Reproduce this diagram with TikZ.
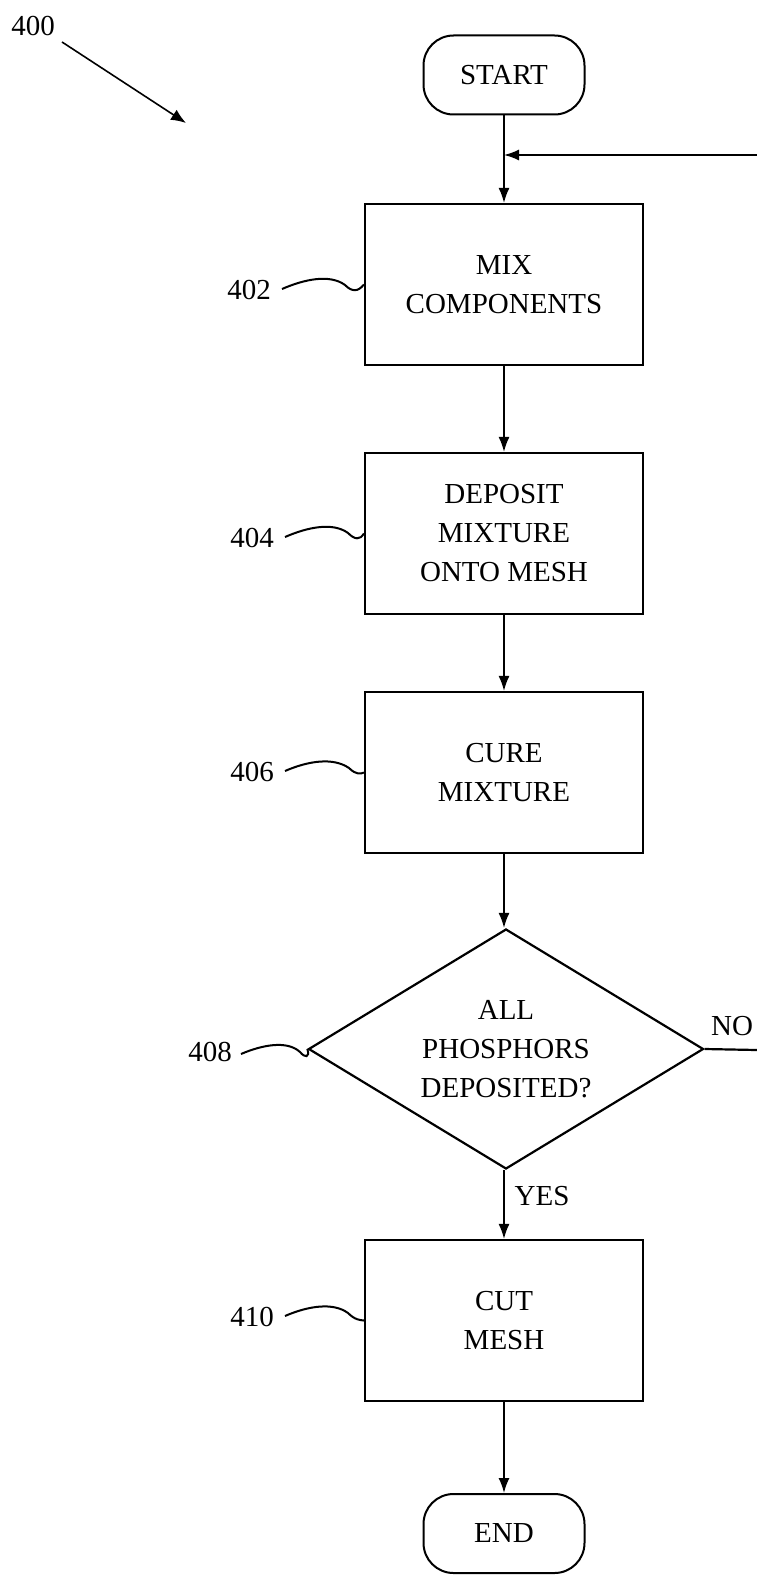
\documentclass[tikz,border=0pt]{standalone}
\usepackage{fontspec}
\setmainfont{Liberation Serif}
\usetikzlibrary{shapes.geometric,arrows.meta}
\begin{document}
\begin{tikzpicture}[x=1pt,y=-1pt,
  txt/.style={font=\fontsize{29}{39}\selectfont, align=center},
  stepbox/.style={txt, draw, line width=2.2pt, minimum width=278pt, minimum height=161pt, inner sep=0pt},
  term/.style={txt, draw, line width=2pt, rounded corners=30pt, minimum width=161pt, minimum height=79pt, inner sep=0pt},
  decide/.style={txt, draw, diamond, line width=2.2pt, aspect=1.65, minimum width=395pt, minimum height=240pt, inner sep=0pt},
  flow/.style={line width=1.6pt, -{Latex[length=15pt,width=11pt]}},
  lead/.style={line width=2pt},
  lbl/.style={font=\fontsize{29}{32}\selectfont}
]
\useasboundingbox (0,0) rectangle (757,1576);

\node[term] (start) at (504,75) {START};
\node[stepbox] (s402) at (504,284.5) {MIX\\COMPONENTS};
\node[stepbox] (s404) at (504,533.5) {DEPOSIT\\MIXTURE\\ONTO MESH};
\node[stepbox] (s406) at (504,772.5) {CURE\\MIXTURE};
\node[decide] (d408) at (506,1049) {ALL\\PHOSPHORS\\DEPOSITED?};
\node[stepbox] (s410) at (504,1320.5) {CUT\\MESH};
\node[term] (end) at (504,1533.5) {END};

% reference labels
\node[lbl] (l400) at (33,26) {400};
\node[lbl] (l402) at (249,290) {402};
\node[lbl] (l404) at (252,538) {404};
\node[lbl] (l406) at (252,772) {406};
\node[lbl] (l408) at (210,1052) {408};
\node[lbl] (l410) at (252,1317) {410};
\node[lbl] (no) at (732,1026) {NO};
\node[lbl] (yes) at (542,1196) {YES};

\coordinate (a400s) at (62,42);
\coordinate (a400e) at (186,123);
\draw[line width=1.6pt, -{Latex[length=15pt,width=12pt]}] (a400s) -- (a400e);

% leaders
\draw[lead] (282,289) .. controls (305,279) and (330,274) .. (345,285) .. controls (352,292) and (358,292) .. (s402.west);
\draw[lead] (285,537) .. controls (308,527) and (333,522) .. (348,533) .. controls (355,540) and (360,540) .. (s404.west);
\draw[lead] (285,771) .. controls (308,761) and (333,757) .. (349,768) .. controls (356,775) and (361,774) .. (s406.west);
\draw[lead] (241,1054) .. controls (262,1045) and (287,1040) .. (300,1052) .. controls (305,1058) and (310,1058) .. (d408.west);
\draw[lead] (285,1316) .. controls (308,1306) and (333,1302) .. (348,1313) .. controls (355,1320) and (360,1320) .. (s410.west);

% flow
\coordinate (ret) at (757,155);
\coordinate (noend) at (757,1050);
\draw[flow] (start.south) -- (s402.north);
\draw[flow] (ret) -- (start.south |- ret);
\draw[flow] (s402.south) -- (s404.north);
\draw[flow] (s404.south) -- (s406.north);
\draw[flow] (s406.south) -- (s406.south |- d408.north);
\draw[flow] (s406.south |- d408.south) -- (s410.north);
\draw[flow] (s410.south) -- (end.north);
\draw[line width=2.2pt] (d408.east) -- (noend);
\end{tikzpicture}
\end{document}
